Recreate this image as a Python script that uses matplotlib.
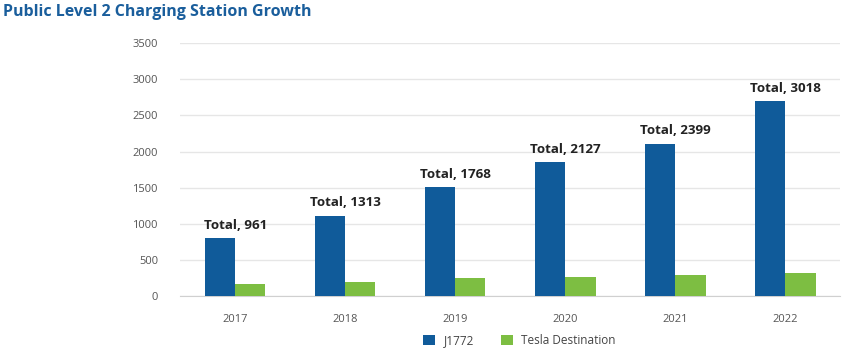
import matplotlib.pyplot as plt
import numpy as np

plt.rcParams['font.family'] = ['Open Sans', 'DejaVu Sans']

years = ['2017', '2018', '2019', '2020', '2021', '2022']
j1772 = [798, 1112, 1508, 1855, 2110, 2696]
tesla = [166, 195, 252, 270, 292, 322]
totals = [961, 1313, 1768, 2127, 2399, 3018]

blue = '#105b9a'
green = '#7dbe42'

fig = plt.figure(figsize=(8.42, 3.48), dpi=100)
ax = fig.add_axes([0.214, 0.149, 0.784, 0.727])

x = np.arange(len(years))
w = 0.275
ax.bar(x - w / 2, j1772, w, color=blue, label='J1772', zorder=3)
ax.bar(x + w / 2, tesla, w, color=green, label='Tesla Destination', zorder=3)

for i, t in enumerate(totals):
    ax.text(x[i], j1772[i] + 90, 'Total, %d' % t, ha='center', va='bottom',
            fontsize=9.6, fontweight='bold', color='#222222')

ax.set_xlim(-0.5, 5.5)
ax.set_ylim(0, 3500)
ax.set_yticks(range(0, 3501, 500))
ax.set_xticks(x)
ax.set_xticklabels(years)
ax.grid(axis='y', color='#e6e6e6', linewidth=1, zorder=0)
for s in ['top', 'right', 'left']:
    ax.spines[s].set_visible(False)
ax.spines['bottom'].set_color('#d0d0d0')
ax.tick_params(axis='both', length=0, labelsize=8, labelcolor='#555555')
ax.tick_params(axis='y', pad=16)
ax.tick_params(axis='x', pad=13)

fig.text(0.003, 0.965, 'Public Level 2 Charging Station Growth', fontsize=11.5,
         fontweight='bold', color='#1a5e9c', va='center', ha='left')

fig.legend(loc='center', bbox_to_anchor=(0.617, 0.022), ncol=2, frameon=False,
           fontsize=8.5, handlelength=1.0, handleheight=1.0, columnspacing=2.3,
           handletextpad=0.7, labelcolor='#444444')

fig.savefig('out.png', dpi=100)
